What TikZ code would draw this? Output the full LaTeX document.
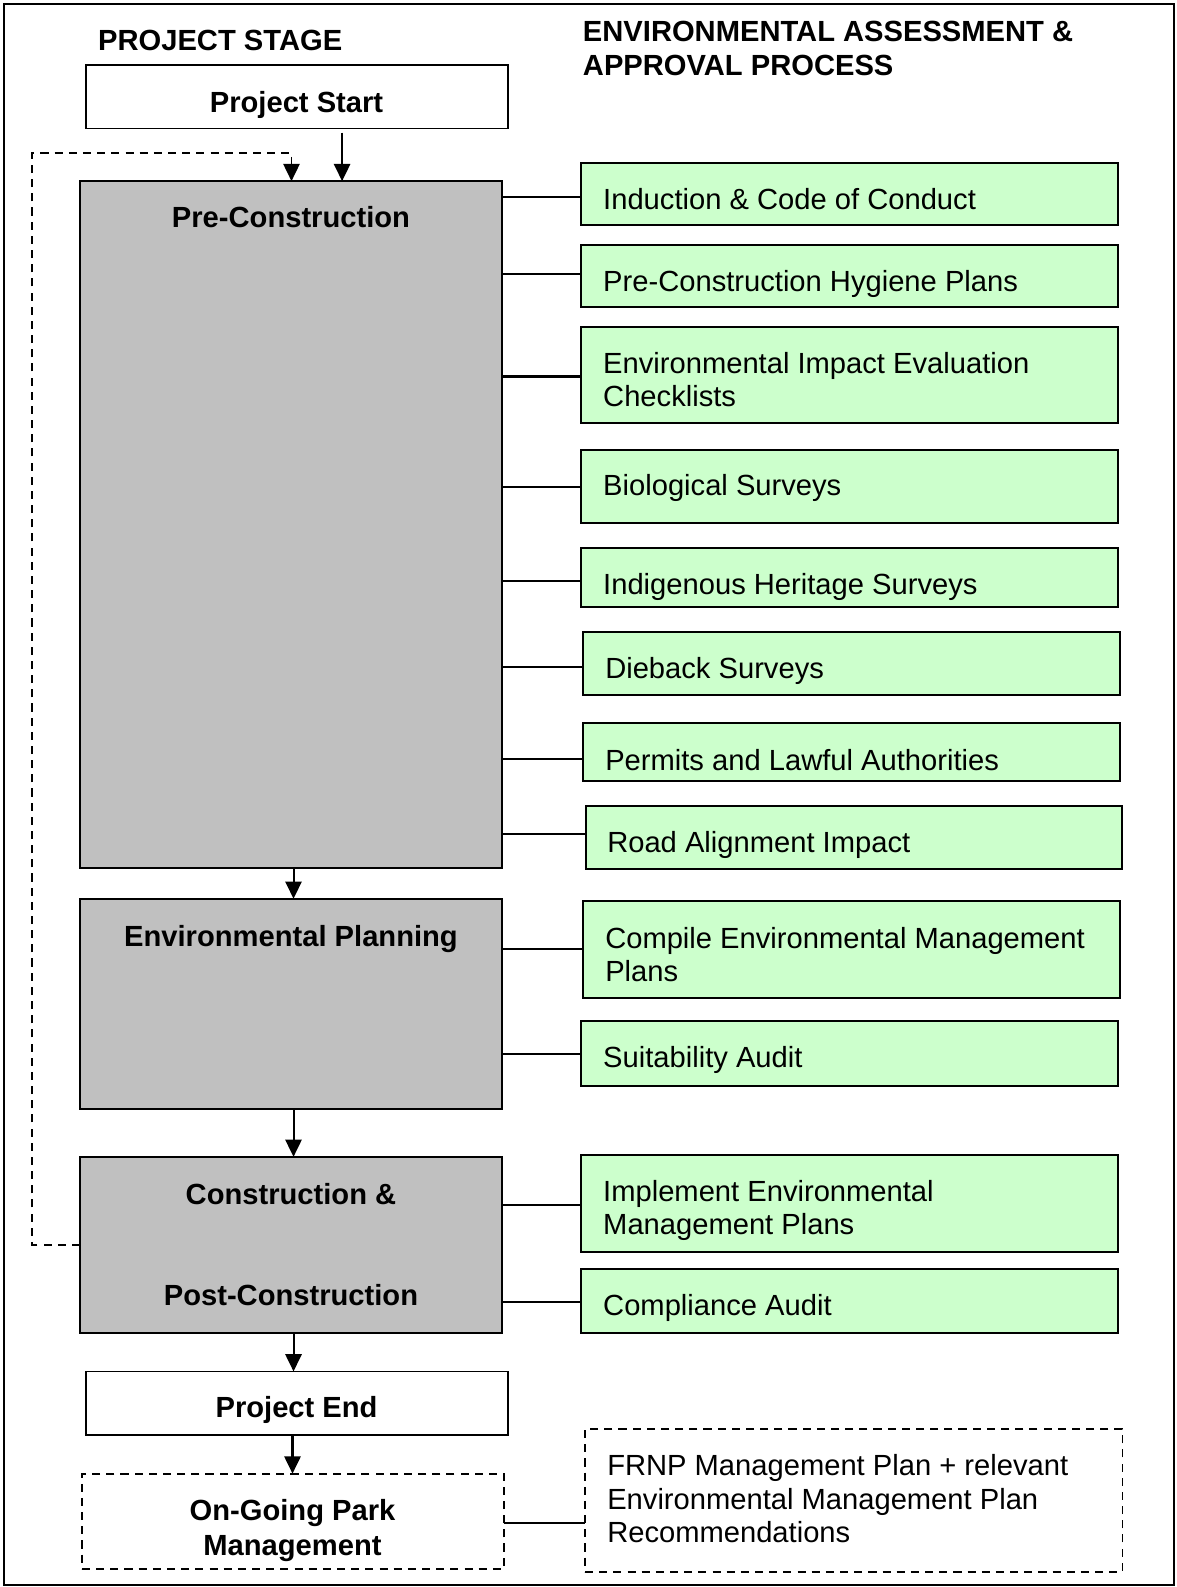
\documentclass[tikz,border=0pt]{standalone}
\usepackage{fontspec}
\setmainfont{Liberation Sans}
\usetikzlibrary{arrows.meta}
\definecolor{grayfill}{HTML}{C0C0C0}
\definecolor{greenfill}{HTML}{CCFFCC}
\newcommand{\mlleft}[1]{\begin{tabular}[t]{@{}l@{}}#1\end{tabular}}
\newcommand{\mlcenter}[1]{\begin{tabular}[t]{@{}c@{}}#1\end{tabular}}
\begin{document}
\begin{tikzpicture}[x=0.5pt,y=-0.5pt,
  every node/.style={font=\fontsize{14.4pt}{16.5pt}\selectfont, inner sep=0pt, outer sep=0pt},
  stagebox/.style={draw, line width=1pt, anchor=north west, minimum width=208.5pt},
  graybox/.style={stagebox, fill=grayfill},
  whitebox/.style={stagebox, fill=white, line width=0.9pt},
  dashbox/.style={draw, line width=0.9pt, dash pattern=on 4pt off 3pt, anchor=north west},
  greenbox/.style={draw, line width=1pt, fill=greenfill, anchor=north west, minimum width=265.5pt},
  btxt/.style={font=\fontsize{14.4pt}{16.5pt}\selectfont\bfseries, anchor=base},
  gtxt/.style={anchor=base west},
  link/.style={line width=1pt},
  arr/.style={line width=1pt, -{Triangle[length=8.5pt,width=8pt]}},
  fb/.style={line width=0.9pt, dash pattern=on 4pt off 3pt, -{Triangle[length=8.5pt,width=8pt]}}
]
\useasboundingbox (0,0) rectangle (1162,1568);
\draw[line width=1pt] (4,4) rectangle (1160,1566);

% headings
\node[btxt, anchor=base west] (h1) at (97,50) {PROJECT STAGE};
\node[btxt, anchor=base west, font=\fontsize{14.4pt}{17pt}\selectfont\bfseries] (h2) at (576,41) {\mlleft{ENVIRONMENTAL ASSESSMENT \&\\APPROVAL PROCESS}};

% stage boxes
\node[whitebox, minimum height=31.5pt] (ps) at (85,64) {};
\node[btxt] (pst) at (293,111) {Project Start};
\node[graybox, minimum height=339.5pt] (pre) at (79,179) {};
\node[btxt] (pret) at (287.5,225) {Pre-Construction};
\node[graybox, minimum height=104pt] (env) at (79,888) {};
\node[btxt] (envt) at (287.5,935) {Environmental Planning};
\node[graybox, minimum height=87pt] (con) at (79,1143) {};
\node[btxt] (cont1) at (287.5,1190) {Construction \&};
\node[btxt] (cont2) at (287.5,1290) {Post-Construction};
\node[whitebox, minimum height=31.5pt] (pe) at (85,1355) {};
\node[btxt] (pet) at (293,1401) {Project End};
\node[dashbox, minimum width=208.5pt, minimum height=47pt] (ogm) at (81,1456) {};
\node[btxt, font=\fontsize{14.4pt}{17.5pt}\selectfont\bfseries] (ogmt) at (289,1502) {\mlcenter{On-Going Park\\Management}};

% green boxes
\node[greenbox, minimum height=30.5pt] (g1) at (574,161) {};
\node[gtxt] (g1t) at (596,207) {Induction \& Code of Conduct};
\node[greenbox, minimum height=30.5pt] (g2) at (574,242) {};
\node[gtxt] (g2t) at (596,288) {Pre-Construction Hygiene Plans};
\node[greenbox, minimum height=47.5pt] (g3) at (574,323) {};
\node[gtxt] (g3t) at (596,369) {\mlleft{Environmental Impact Evaluation\\Checklists}};
\node[greenbox, minimum height=36pt] (g4) at (574,445) {};
\node[gtxt] (g4t) at (596,490) {Biological Surveys};
\node[greenbox, minimum height=29.5pt] (g5) at (574,541) {};
\node[gtxt] (g5t) at (596,587) {Indigenous Heritage Surveys};
\node[greenbox, minimum height=31.5pt] (g6) at (576,624) {};
\node[gtxt] (g6t) at (598,670) {Dieback Surveys};
\node[greenbox, minimum height=29pt] (g7) at (576,714) {};
\node[gtxt] (g7t) at (598,761) {Permits and Lawful Authorities};
\node[greenbox, minimum width=265pt, minimum height=31.5pt] (g8) at (579,796) {};
\node[gtxt] (g8t) at (600,842) {Road Alignment Impact};
\node[greenbox, minimum height=48pt] (g9) at (576,890) {};
\node[gtxt] (g9t) at (598,937) {\mlleft{Compile Environmental Management\\Plans}};
\node[greenbox, minimum height=32pt] (g10) at (574,1009) {};
\node[gtxt] (g10t) at (596,1055) {Suitability Audit};
\node[greenbox, minimum height=48pt] (g11) at (574,1141) {};
\node[gtxt] (g11t) at (596,1187) {\mlleft{Implement Environmental\\Management Plans}};
\node[greenbox, minimum height=31.5pt] (g12) at (574,1254) {};
\node[gtxt] (g12t) at (596,1300) {Compliance Audit};

\node[dashbox, minimum width=265.5pt, minimum height=70.5pt] (frnp) at (578,1412) {};
\node[gtxt] (frnpt) at (600,1458) {\mlleft{FRNP Management Plan + relevant\\Environmental Management Plan\\Recommendations}};

% connectors
\draw[link] (pre.east |- 0,195) -- (g1.west |- 0,195);
\draw[link] (pre.east |- 0,271) -- (g2.west |- 0,271);
\draw[link] (pre.east |- 0,372) -- (g3.west |- 0,372);
\draw[link] (pre.east |- 0,481) -- (g4.west |- 0,481);
\draw[link] (pre.east |- 0,574) -- (g5.west |- 0,574);
\draw[link] (pre.east |- 0,659) -- (g6.west |- 0,659);
\draw[link] (pre.east |- 0,750) -- (g7.west |- 0,750);
\draw[link] (pre.east |- 0,824) -- (g8.west |- 0,824);
\draw[link] (env.east |- 0,938) -- (g9.west |- 0,938);
\draw[link] (env.east |- 0,1041) -- (g10.west |- 0,1041);
\draw[link] (con.east |- 0,1191) -- (g11.west |- 0,1191);
\draw[link] (con.east |- 0,1286) -- (g12.west |- 0,1286);
\draw[link] (ogm.east |- 0,1505) -- (frnp.west |- 0,1505);

% arrows
\draw[arr] ([yshift=-2pt]ps.south -| 338,0) -- (pre.north -| 338,0);
\draw[arr] (pre.south -| 290,0) -- (env.north -| 290,0);
\draw[arr] (env.south -| 290,0) -- (con.north -| 290,0);
\draw[arr] (con.south -| 290,0) -- (pe.north -| 290,0);
\draw[arr] (pe.south -| 289,0) -- (ogm.north -| 289,0);

% feedback loop
\coordinate (fbA) at (32,1230);
\coordinate (fbB) at (32,151);
\coordinate (fbC) at (288,151);
\draw[fb] (con.west |- fbA) -- (fbA) -- (fbB) -- (fbC) -- (pre.north -| fbC);
\end{tikzpicture}
\end{document}
